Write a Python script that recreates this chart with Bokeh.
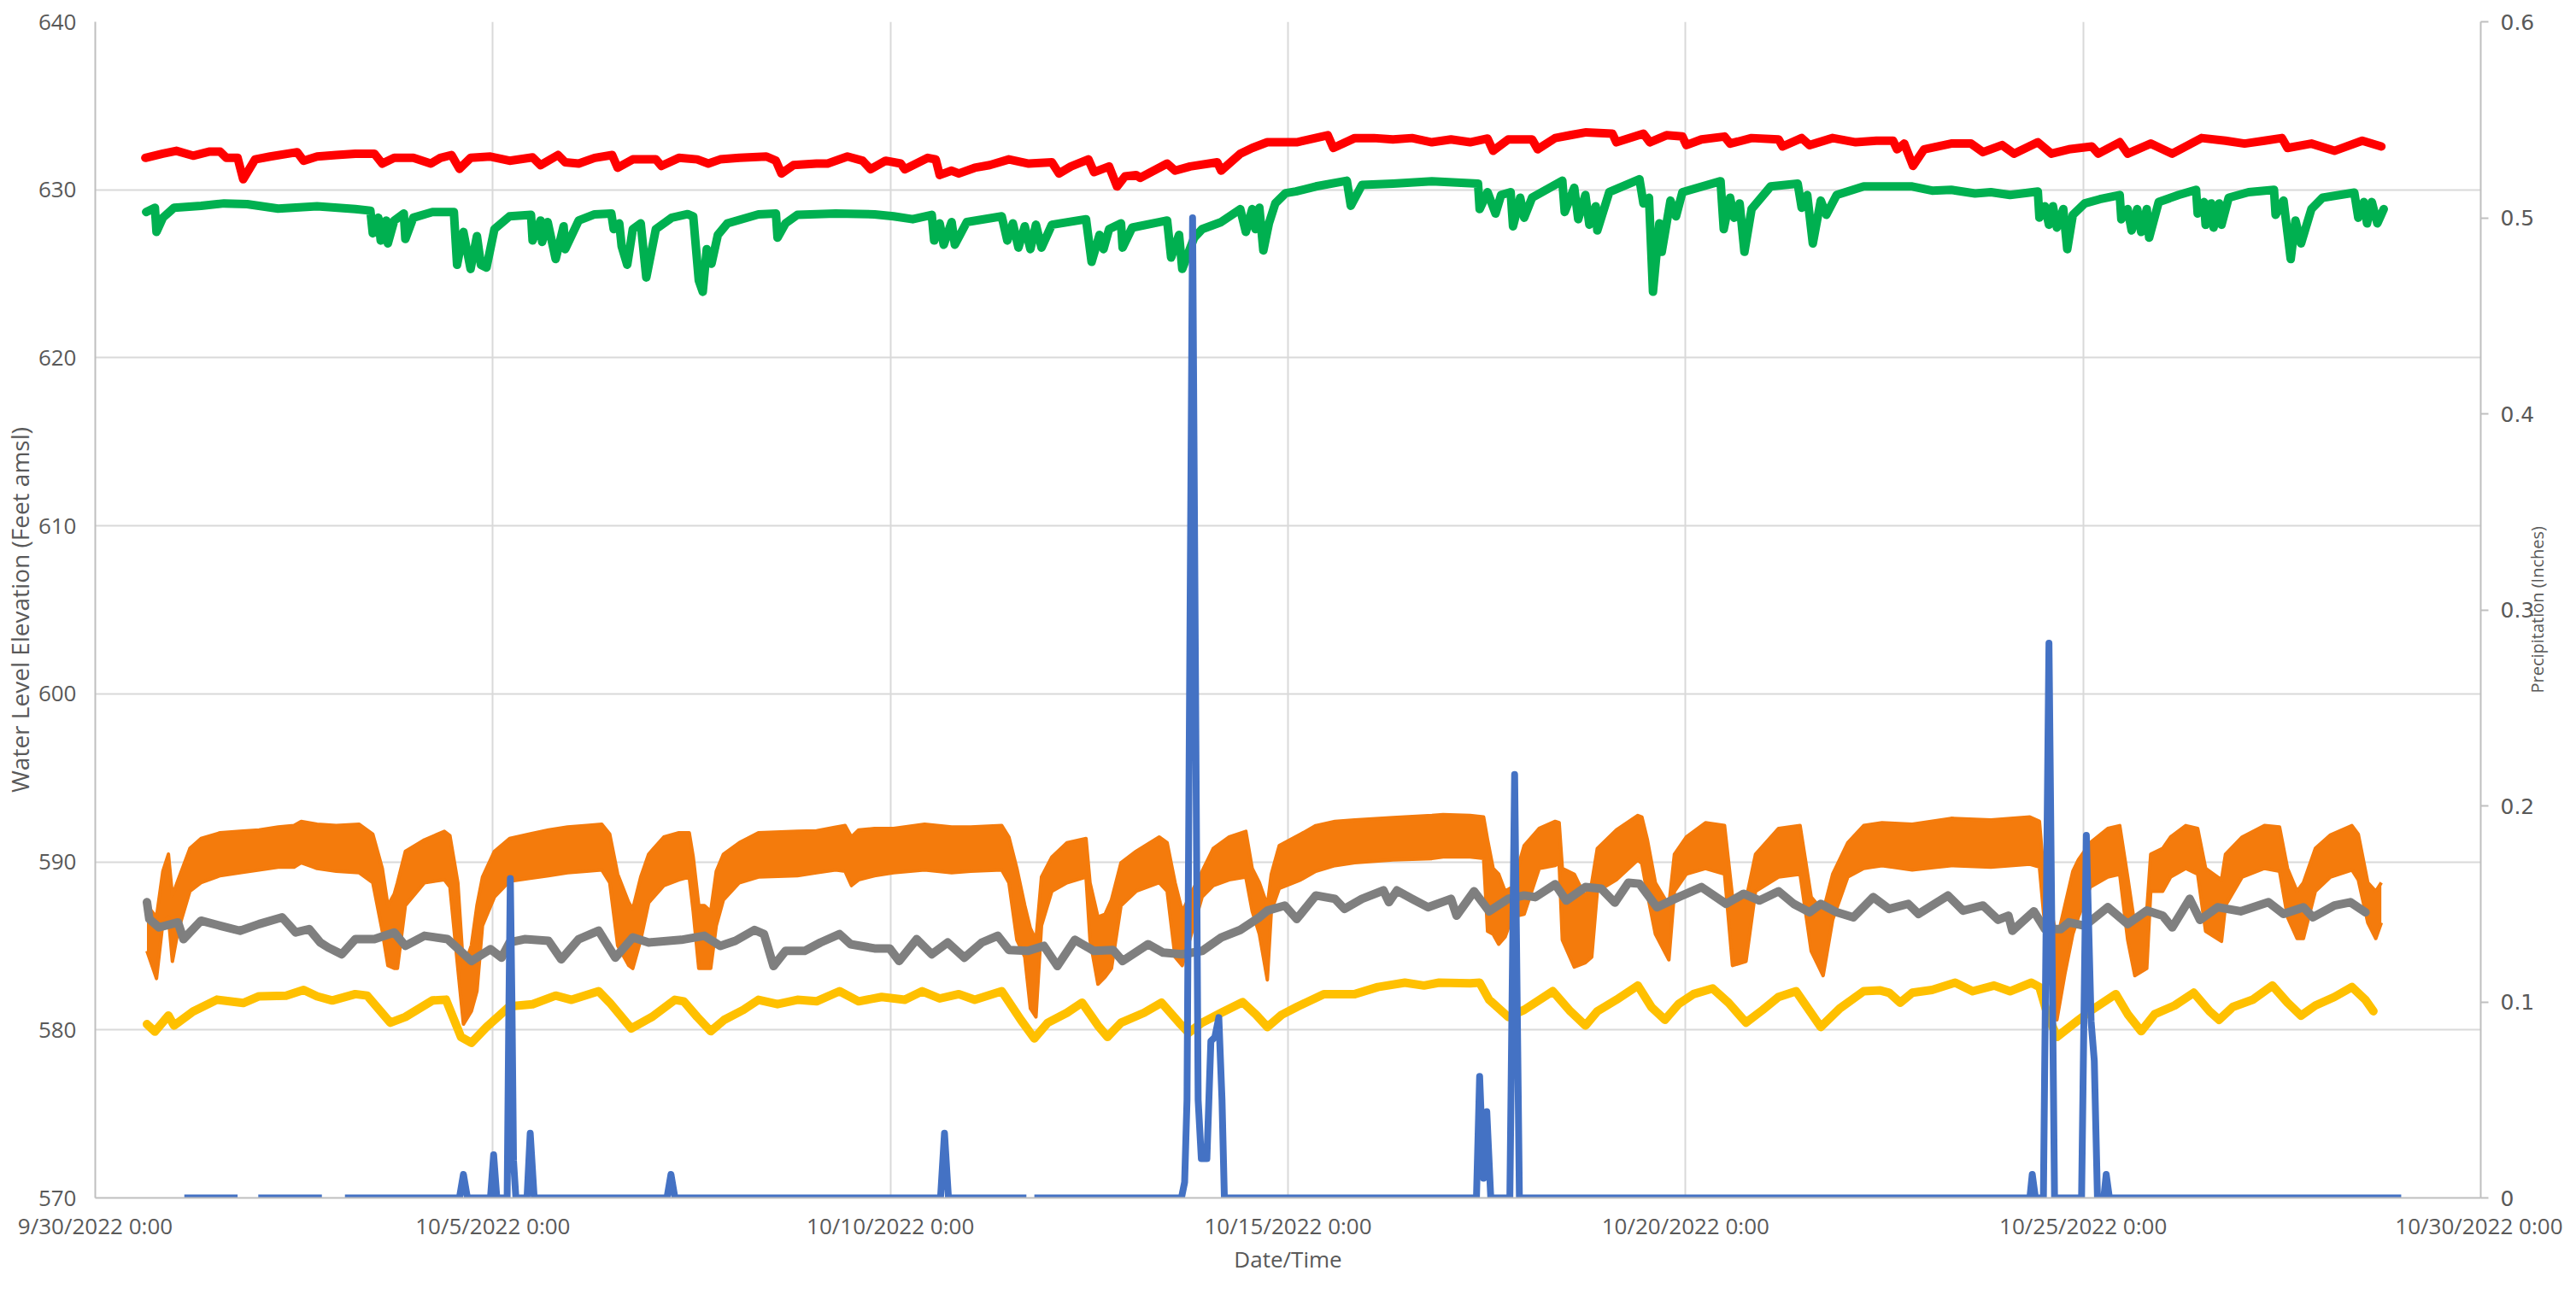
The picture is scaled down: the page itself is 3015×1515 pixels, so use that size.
import numpy as np
from bokeh.plotting import figure
from bokeh.models import Range1d, LinearAxis, FixedTicker
from bokeh.embed import file_html
from bokeh.resources import INLINE

NaN = float("nan")

# x values: days since 9/30/2022 0:00
x_tick_days = [0, 5, 10, 15, 20, 25, 30]
x_tick_labels = ["9/30/2022 0:00", "10/5/2022 0:00", "10/10/2022 0:00", "10/15/2022 0:00",
                 "10/20/2022 0:00", "10/25/2022 0:00", "10/30/2022 0:00"]
y_ticks = [570, 580, 590, 600, 610, 620, 630, 640]
precip_ticks = [0, 0.1, 0.2, 0.3, 0.4, 0.5, 0.6]
precip_tick_labels = ["0", "0.1", "0.2", "0.3", "0.4", "0.5", "0.6"]
precip_title = "Precipitation (Inches)"

red_t = [0.63, 0.85, 1.02, 1.23, 1.43, 1.57, 1.65, 1.79, 1.86, 2.01, 2.20, 2.54, 2.62, 2.79, 3.03, 3.27,
         3.51, 3.61, 3.76, 4.00, 4.22, 4.34, 4.48, 4.58, 4.72, 4.97, 5.21, 5.50, 5.60, 5.82, 5.91, 6.08,
         6.28, 6.50, 6.57, 6.76, 7.05, 7.12, 7.34, 7.57, 7.71, 7.86, 8.10, 8.44, 8.56, 8.63, 8.78, 9.07,
         9.21, 9.46, 9.65, 9.75, 9.94, 10.13, 10.18, 10.47, 10.57, 10.62, 10.77, 10.86, 11.06, 11.25,
         11.49, 11.74, 12.03, 12.12, 12.27, 12.49, 12.56, 12.75, 12.85, 12.95, 13.09, 13.14, 13.48,
         13.58, 13.77, 14.11, 14.16, 14.40, 14.55, 14.74, 14.97, 15.11, 15.50, 15.57, 15.84, 16.08,
         16.32, 16.56, 16.81, 17.05, 17.29, 17.51, 17.58, 17.77, 18.07, 18.14, 18.36, 18.55, 18.75,
         19.08, 19.13, 19.47, 19.55, 19.76, 19.96, 20.01, 20.20, 20.49, 20.56, 20.83, 21.17, 21.22,
         21.46, 21.56, 21.85, 22.14, 22.40, 22.61, 22.66, 22.75, 22.86, 23.00, 23.34, 23.59, 23.74,
         23.98, 24.13, 24.43, 24.60, 24.82, 25.11, 25.19, 25.46, 25.56, 25.85, 26.00, 26.12, 26.49,
         26.79, 27.03, 27.28, 27.50, 27.57, 27.87, 28.16, 28.51, 28.75]
red_ft = [631.90, 632.15, 632.32, 632.03, 632.27, 632.27, 631.90, 631.90, 630.63, 631.81, 631.98, 632.24,
          631.73, 631.98, 632.07, 632.15, 632.15, 631.56, 631.90, 631.90, 631.56, 631.90, 632.07, 631.25,
          631.90, 631.98, 631.73, 631.93, 631.47, 632.07, 631.64, 631.56, 631.90, 632.07, 631.31, 631.81,
          631.81, 631.42, 631.90, 631.81, 631.56, 631.81, 631.90, 631.98, 631.73, 630.97, 631.47, 631.56,
          631.56, 631.98, 631.73, 631.22, 631.73, 631.56, 631.22, 631.90, 631.81, 630.88, 631.14, 630.97,
          631.31, 631.47, 631.81, 631.56, 631.64, 630.97, 631.39, 631.81, 631.05, 631.39, 630.20, 630.80,
          630.88, 630.71, 631.56, 631.14, 631.39, 631.64, 631.14, 632.15, 632.49, 632.83, 632.83, 632.83,
          633.25, 632.49, 633.08, 633.08, 633.00, 633.08, 632.83, 633.00, 632.83, 633.05, 632.32, 633.00,
          633.00, 632.41, 633.08, 633.25, 633.42, 633.34, 632.83, 633.34, 632.83, 633.25, 633.17, 632.66,
          633.00, 633.17, 632.75, 633.08, 633.00, 632.58, 633.08, 632.66, 633.08, 632.83, 632.92, 632.92,
          632.41, 632.75, 631.42, 632.41, 632.75, 632.75, 632.24, 632.66, 632.15, 632.83, 632.15, 632.41,
          632.58, 632.15, 632.83, 632.15, 632.75, 632.41, 632.15, 633.08, 632.92, 632.75, 632.92, 633.08,
          632.49, 632.75, 632.32, 632.92, 632.58]

green_t = [0.64, 0.75, 0.77, 0.85, 0.99, 1.33, 1.62, 1.91, 2.30, 2.79, 3.27, 3.46, 3.49, 3.56, 3.59, 3.66,
           3.68, 3.76, 3.88, 3.90, 4.00, 4.24, 4.51, 4.55, 4.63, 4.72, 4.80, 4.85, 4.92, 5.02, 5.21, 5.48,
           5.50, 5.60, 5.62, 5.69, 5.79, 5.89, 5.91, 6.08, 6.28, 6.49, 6.52, 6.59, 6.62, 6.69, 6.76, 6.86,
           6.93, 7.05, 7.25, 7.45, 7.52, 7.59, 7.64, 7.69, 7.75, 7.83, 7.95, 8.34, 8.56, 8.58, 8.68, 8.83,
           9.31, 9.80, 10.04, 10.28, 10.52, 10.55, 10.62, 10.67, 10.77, 10.81, 10.96, 11.40, 11.47, 11.54,
           11.61, 11.69, 11.76, 11.83, 11.90, 12.03, 12.46, 12.53, 12.63, 12.68, 12.75, 12.90, 12.92,
           13.04, 13.48, 13.53, 13.63, 13.67, 13.82, 13.92, 14.16, 14.40, 14.47, 14.55, 14.59, 14.64,
           14.69, 14.76, 14.84, 14.97, 15.10, 15.35, 15.74, 15.79, 15.93, 16.32, 16.81, 17.39, 17.41,
           17.51, 17.61, 17.68, 17.80, 17.83, 17.92, 17.97, 18.07, 18.45, 18.48, 18.60, 18.65, 18.74,
           18.79, 18.87, 18.89, 19.04, 19.42, 19.47, 19.54, 19.59, 19.67, 19.70, 19.81, 19.88, 19.96,
           20.44, 20.48, 20.56, 20.61, 20.68, 20.74, 20.83, 21.07, 21.41, 21.46, 21.53, 21.60, 21.70,
           21.77, 21.90, 22.24, 22.47, 22.85, 23.10, 23.34, 23.64, 23.84, 24.08, 24.43, 24.45, 24.52,
           24.57, 24.62, 24.67, 24.75, 24.80, 24.87, 25.02, 25.21, 25.46, 25.48, 25.56, 25.61, 25.68,
           25.73, 25.80, 25.83, 25.95, 26.20, 26.42, 26.44, 26.52, 26.54, 26.61, 26.64, 26.71, 26.74,
           26.83, 27.08, 27.40, 27.42, 27.52, 27.61, 27.67, 27.74, 27.87, 28.01, 28.41, 28.46, 28.53,
           28.57, 28.63, 28.70, 28.78]
green_ft = [628.68, 628.93, 627.49, 628.34, 628.93, 629.05, 629.19, 629.15, 628.88, 629.02, 628.85, 628.76,
            627.41, 628.34, 626.98, 628.17, 626.81, 628.17, 628.59, 627.07, 628.34, 628.68, 628.68, 625.54,
            627.49, 625.29, 627.24, 625.54, 625.37, 627.66, 628.42, 628.51, 626.98, 628.17, 626.90, 628.08,
            625.88, 627.83, 626.47, 628.17, 628.54, 628.59, 627.66, 628.00, 626.64, 625.54, 627.66, 628.00,
            624.78, 627.66, 628.34, 628.55, 628.42, 624.61, 623.93, 626.47, 625.60, 627.32, 628.00, 628.54,
            628.59, 627.15, 628.00, 628.51, 628.59, 628.54, 628.42, 628.25, 628.51, 626.98, 628.00, 626.73,
            628.08, 626.73, 628.08, 628.42, 626.98, 628.00, 626.56, 627.83, 626.47, 627.92, 626.56, 627.92,
            628.25, 625.71, 627.32, 626.47, 627.66, 628.00, 626.56, 627.75, 628.17, 625.97, 627.32, 625.29,
            627.15, 627.66, 628.08, 628.85, 627.49, 628.85, 627.66, 628.93, 626.39, 628.00, 629.19, 629.80,
            629.90, 630.20, 630.54, 629.05, 630.29, 630.37, 630.51, 630.37, 628.85, 629.86, 628.59, 629.69,
            629.86, 627.83, 629.53, 628.34, 629.53, 630.54, 628.68, 630.12, 628.25, 629.69, 627.92, 629.02,
            627.58, 629.86, 630.63, 629.19, 629.53, 623.93, 628.00, 626.31, 629.36, 628.42, 629.86, 630.51,
            627.66, 629.53, 628.34, 629.19, 626.31, 628.85, 630.20, 630.37, 628.93, 629.69, 626.81, 629.36,
            628.51, 629.69, 630.20, 630.20, 630.20, 629.95, 630.00, 629.78, 629.86, 629.69, 629.90, 628.34,
            629.02, 627.92, 629.02, 627.75, 628.85, 626.47, 628.51, 629.19, 629.44, 629.69, 628.25, 628.85,
            627.58, 628.85, 627.49, 628.85, 627.15, 629.27, 629.69, 630.00, 628.59, 629.27, 627.92, 629.19,
            627.75, 629.19, 627.92, 629.53, 629.86, 630.00, 628.51, 629.36, 625.88, 628.17, 626.81, 628.85,
            629.53, 629.83, 628.34, 629.27, 628.00, 629.27, 628.00, 628.85]

orange_t = [0.65, 0.77, 0.85, 0.92, 0.97, 1.04, 1.19, 1.33, 1.57, 1.82, 2.06, 2.30, 2.50, 2.59, 2.79, 3.03,
            3.32, 3.49, 3.61, 3.68, 3.76, 3.80, 3.90, 4.14, 4.39, 4.46, 4.56, 4.63, 4.73, 4.80, 4.87, 5.02,
            5.21, 5.45, 5.70, 5.94, 6.18, 6.37, 6.47, 6.57, 6.71, 6.76, 6.86, 6.96, 7.15, 7.34, 7.47, 7.52,
            7.59, 7.66, 7.74, 7.81, 7.90, 8.10, 8.34, 8.83, 9.07, 9.31, 9.43, 9.51, 9.60, 9.80, 10.04,
            10.43, 10.77, 11.01, 11.40, 11.49, 11.59, 11.69, 11.76, 11.83, 11.90, 12.03, 12.22, 12.46,
            12.51, 12.61, 12.70, 12.78, 12.90, 13.09, 13.38, 13.48, 13.58, 13.67, 13.92, 14.06, 14.26,
            14.47, 14.55, 14.64, 14.74, 14.79, 14.89, 15.16, 15.35, 15.59, 15.84, 16.32, 16.81, 16.95,
            17.29, 17.46, 17.51, 17.58, 17.65, 17.73, 17.82, 17.97, 18.16, 18.36, 18.41, 18.45, 18.60,
            18.74, 18.82, 18.89, 19.13, 19.40, 19.45, 19.52, 19.62, 19.79, 19.86, 20.01, 20.25, 20.49,
            20.59, 20.76, 20.88, 21.17, 21.44, 21.58, 21.73, 21.85, 22.04, 22.24, 22.47, 22.85, 23.34,
            23.84, 24.33, 24.45, 24.50, 24.67, 24.77, 24.87, 24.94, 25.09, 25.31, 25.46, 25.56, 25.65,
            25.80, 25.85, 26.00, 26.10, 26.29, 26.44, 26.54, 26.74, 26.79, 27.00, 27.28, 27.47, 27.57,
            27.69, 27.77, 27.92, 28.11, 28.38, 28.46, 28.58, 28.68, 28.75]
orange_hi = [587.40, 586.72, 589.44, 590.46, 588.00, 588.90, 590.80, 591.39, 591.73, 591.82, 591.90, 592.07,
             592.16, 592.41, 592.24, 592.16, 592.24, 591.65, 589.61, 587.40, 588.08, 588.76, 590.63, 591.31,
             591.82, 591.56, 588.76, 583.66, 585.02, 587.40, 589.10, 590.63, 591.39, 591.65, 591.90, 592.07,
             592.16, 592.24, 591.65, 589.27, 587.57, 587.20, 589.10, 590.46, 591.48, 591.73, 591.73, 590.29,
             587.40, 587.40, 587.06, 589.44, 590.46, 591.14, 591.73, 591.82, 591.85, 592.07, 592.16, 591.48,
             591.90, 591.99, 591.99, 592.24, 592.07, 592.07, 592.16, 591.48, 589.61, 587.40, 586.04, 585.36,
             589.10, 590.29, 591.14, 591.39, 588.76, 586.72, 586.89, 587.74, 589.95, 590.63, 591.48, 591.14,
             588.76, 587.06, 589.44, 590.80, 591.48, 591.82, 589.61, 588.76, 587.40, 589.27, 590.97, 591.65,
             592.16, 592.41, 592.50, 592.64, 592.76, 592.81, 592.76, 592.67, 591.31, 589.61, 589.27, 588.25,
             588.50, 590.97, 591.99, 592.41, 592.33, 589.61, 589.27, 587.91, 588.76, 590.80, 591.90, 592.76,
             592.67, 591.31, 588.76, 587.40, 590.46, 591.48, 592.33, 592.16, 587.91, 587.74, 590.46, 591.99,
             592.16, 587.91, 587.06, 589.27, 591.14, 592.16, 592.33, 592.24, 592.59, 592.50, 592.67, 592.41,
             589.61, 585.36, 587.40, 589.44, 590.12, 591.14, 591.99, 592.16, 589.10, 586.21, 587.06, 590.46,
             590.80, 591.48, 592.16, 591.99, 589.61, 588.93, 590.46, 591.48, 592.16, 592.07, 589.61, 588.25,
             588.76, 590.80, 591.60, 592.16, 591.65, 588.76, 588.25, 588.76]
orange_lo = [584.70, 583.06, 586.38, 586.72, 584.08, 585.87, 588.25, 588.76, 589.18, 589.35, 589.52, 589.69,
             589.69, 589.95, 589.61, 589.44, 589.35, 588.76, 585.87, 583.83, 583.66, 583.66, 587.40, 588.76,
             588.93, 588.50, 583.66, 580.34, 581.11, 582.30, 586.21, 587.91, 588.84, 589.01, 589.18, 589.35,
             589.44, 589.52, 588.76, 585.02, 583.83, 583.66, 585.36, 587.57, 588.59, 588.93, 589.10, 587.06,
             583.66, 583.66, 583.66, 586.21, 587.74, 588.76, 589.10, 589.18, 589.35, 589.52, 589.44, 588.59,
             588.93, 589.18, 589.35, 589.52, 589.35, 589.44, 589.52, 588.76, 585.36, 584.34, 581.28, 580.77,
             586.21, 588.25, 588.76, 589.10, 585.36, 582.72, 583.15, 583.66, 587.40, 588.25, 588.76, 588.25,
             584.34, 583.83, 587.91, 588.59, 588.93, 589.10, 587.06, 585.70, 582.98, 587.06, 588.42, 588.93,
             589.44, 589.78, 589.95, 590.12, 590.20, 590.29, 590.29, 590.20, 585.87, 585.70, 585.10, 585.53,
             586.72, 586.89, 589.61, 589.78, 589.95, 585.36, 583.74, 584.00, 584.34, 588.25, 588.93, 590.12,
             589.90, 588.08, 585.70, 584.17, 588.25, 589.27, 589.61, 589.27, 583.83, 584.08, 588.25, 589.10,
             589.27, 584.68, 583.23, 586.55, 589.10, 589.61, 589.78, 589.52, 589.78, 589.69, 589.86, 589.70,
             587.06, 580.60, 583.32, 585.70, 586.72, 588.50, 589.10, 589.27, 585.36, 583.23, 583.66, 588.25,
             588.25, 589.10, 589.61, 589.27, 585.87, 585.27, 587.40, 589.10, 589.61, 589.44, 586.72, 585.44,
             585.44, 588.25, 589.10, 589.52, 588.93, 586.38, 585.44, 586.38]

gray_t = [0.65, 0.68, 0.80, 1.04, 1.11, 1.33, 1.57, 1.82, 2.06, 2.35, 2.52, 2.69, 2.83, 2.93, 3.10, 3.27,
          3.51, 3.76, 3.90, 4.14, 4.43, 4.73, 4.97, 5.11, 5.21, 5.40, 5.70, 5.86, 6.08, 6.33, 6.54, 6.76,
          6.96, 7.37, 7.66, 7.86, 8.05, 8.29, 8.41, 8.53, 8.68, 8.92, 9.12, 9.36, 9.50, 9.80, 9.99, 10.11,
          10.33, 10.52, 10.72, 10.93, 11.15, 11.35, 11.49, 11.73, 11.93, 12.10, 12.32, 12.56, 12.80,
          12.92, 13.24, 13.43, 13.67, 13.92, 14.16, 14.40, 14.64, 14.74, 14.96, 15.11, 15.35, 15.59,
          15.71, 15.93, 16.20, 16.27, 16.37, 16.56, 16.76, 17.05, 17.12, 17.34, 17.53, 17.77, 17.97,
          18.11, 18.36, 18.50, 18.74, 18.94, 19.11, 19.28, 19.42, 19.64, 19.91, 20.20, 20.51, 20.73,
          20.93, 21.17, 21.36, 21.56, 21.70, 21.90, 22.11, 22.36, 22.56, 22.80, 22.93, 23.30, 23.49,
          23.74, 23.93, 24.06, 24.11, 24.38, 24.52, 24.72, 24.82, 25.02, 25.31, 25.56, 25.80, 26.00,
          26.12, 26.34, 26.47, 26.69, 26.98, 27.33, 27.52, 27.77, 27.89, 28.16, 28.36, 28.55]
gray_ft = [587.60, 586.60, 586.10, 586.40, 585.40, 586.50, 586.20, 585.90, 586.30, 586.70, 585.80, 586.00,
           585.20, 584.90, 584.50, 585.40, 585.40, 585.80, 585.00, 585.60, 585.40, 584.10, 584.80, 584.30,
           585.20, 585.40, 585.30, 584.20, 585.40, 585.90, 584.30, 585.50, 585.20, 585.36, 585.60, 585.00,
           585.30, 585.95, 585.70, 583.80, 584.70, 584.70, 585.20, 585.70, 585.10, 584.85, 584.85, 584.10,
           585.40, 584.50, 585.20, 584.30, 585.20, 585.60, 584.76, 584.70, 585.00, 583.80, 585.36, 584.70,
           584.76, 584.10, 585.10, 584.60, 584.50, 584.70, 585.50, 585.95, 586.70, 587.10, 587.40, 586.60,
           588.00, 587.80, 587.20, 587.80, 588.30, 587.60, 588.30, 587.80, 587.30, 587.80, 586.80, 588.25,
           587.06, 587.80, 588.00, 587.90, 588.67, 587.70, 588.50, 588.40, 587.57, 588.76, 588.70, 587.30,
           587.90, 588.50, 587.50, 588.10, 587.70, 588.25, 587.50, 587.00, 587.50, 587.00, 586.70, 587.90,
           587.20, 587.50, 586.90, 588.00, 587.10, 587.40, 586.55, 586.80, 585.90, 587.06, 586.00, 586.00,
           586.40, 586.20, 587.30, 586.30, 587.10, 586.80, 586.10, 587.80, 586.55, 587.30, 587.06, 587.60,
           586.90, 587.30, 586.70, 587.40, 587.60, 587.00]

yellow_t = [0.65, 0.75, 0.92, 0.99, 1.23, 1.53, 1.86, 2.06, 2.40, 2.62, 2.79, 2.98, 3.27, 3.42, 3.71, 3.90,
            4.24, 4.41, 4.60, 4.73, 4.92, 5.21, 5.50, 5.79, 5.99, 6.33, 6.47, 6.74, 7.00, 7.29, 7.40, 7.57,
            7.74, 7.91, 8.15, 8.34, 8.58, 8.83, 9.07, 9.36, 9.60, 9.89, 10.18, 10.40, 10.62, 10.86, 11.06,
            11.40, 11.64, 11.81, 11.98, 12.22, 12.41, 12.61, 12.73, 12.90, 13.19, 13.41, 13.63, 13.75,
            13.92, 14.16, 14.43, 14.60, 14.74, 14.92, 15.11, 15.45, 15.84, 16.13, 16.47, 16.71, 16.90,
            17.29, 17.41, 17.53, 17.77, 17.97, 18.33, 18.55, 18.74, 18.89, 19.13, 19.40, 19.57, 19.74,
            19.91, 20.10, 20.34, 20.54, 20.76, 20.97, 21.17, 21.39, 21.70, 21.94, 22.24, 22.45, 22.56,
            22.70, 22.85, 23.10, 23.39, 23.61, 23.88, 24.08, 24.35, 24.45, 24.55, 24.67, 24.92, 25.11,
            25.41, 25.56, 25.73, 25.90, 26.15, 26.39, 26.59, 26.71, 26.88, 27.13, 27.38, 27.57, 27.74,
            27.92, 28.16, 28.38, 28.55, 28.65]
yellow_ft = [580.34, 579.90, 580.85, 580.26, 581.10, 581.80, 581.60, 582.00, 582.04, 582.38, 582.00, 581.75,
             582.13, 582.04, 580.43, 580.77, 581.75, 581.80, 579.58, 579.23, 580.17, 581.40, 581.53, 582.04,
             581.79, 582.30, 581.62, 580.09, 580.77, 581.79, 581.70, 580.77, 579.92, 580.60, 581.19, 581.79,
             581.53, 581.79, 581.70, 582.30, 581.70, 581.96, 581.79, 582.30, 581.87, 582.13, 581.79, 582.30,
             580.60, 579.49, 580.43, 581.02, 581.62, 580.26, 579.58, 580.43, 581.02, 581.62, 580.43, 579.83,
             580.43, 581.02, 581.65, 580.90, 580.17, 580.90, 581.36, 582.13, 582.13, 582.55, 582.81, 582.64,
             582.81, 582.77, 582.81, 581.79, 580.77, 581.19, 582.30, 581.11, 580.26, 581.11, 581.79, 582.64,
             581.36, 580.60, 581.53, 582.13, 582.47, 581.62, 580.43, 581.19, 581.96, 582.30, 580.17, 581.28,
             582.30, 582.35, 582.21, 581.62, 582.21, 582.38, 582.81, 582.30, 582.64, 582.30, 582.81, 582.55,
             580.94, 579.58, 580.51, 581.19, 582.13, 580.94, 579.92, 580.94, 581.45, 582.21, 581.11, 580.60,
             581.36, 581.79, 582.64, 581.62, 580.85, 581.45, 581.96, 582.55, 581.79, 581.11]

precip_t = [1.12, 1.79, 1.80, 2.05, 2.85, 2.86, 3.14, 4.58, 4.63, 4.68, 4.97, 5.01, 5.05, 5.18, 5.20, 5.22,
            5.24, 5.26, 5.29, 5.43, 5.47, 5.52, 7.19, 7.24, 7.29, 10.63, 10.68, 10.73, 11.71, 11.72, 11.81,
            13.66, 13.70, 13.73, 13.80, 13.87, 13.91, 13.98, 14.03, 14.08, 14.13, 14.17, 14.20, 17.37,
            17.41, 17.46, 17.50, 17.55, 17.79, 17.85, 17.91, 24.33, 24.36, 24.40, 24.50, 24.57, 24.64,
            24.98, 25.04, 25.10, 25.14, 25.18, 25.26, 25.29, 25.33, 29.00]
precip_in = [0, 0, NaN, 0, 0, NaN, 0, 0, 0.012, 0, 0, 0.022, 0, 0, 0.09, 0.163,
             0.10, 0.019, 0, 0, 0.033, 0, 0, 0.012, 0, 0, 0.033, 0, 0, NaN, 0,
             0, 0.008, 0.05, 0.50, 0.05, 0.02, 0.02, 0.08, 0.082, 0.092, 0.05, 0, 0,
             0.062, 0.01, 0.044, 0, 0, 0.216, 0, 0, 0.012, 0, 0, 0.283, 0,
             0, 0.185, 0.09, 0.07, 0, 0, 0.012, 0, 0]

RED = "#FF0000"
GREEN = "#00B050"
ORANGE = "#F47B0C"
GRAY = "#7F7F7F"
YELLOW = "#FFC000"
BLUE = "#4472C4"
TXT = "#595959"
GRID = "#D9D9D9"
AXIS = "#BFBFBF"
FONT = "Open Sans"

p = figure(width=2999, height=1499, output_backend="svg", toolbar_location=None,
           x_range=Range1d(0, 30), y_range=Range1d(570, 640),
           min_border_left=104, min_border_right=94, min_border_top=25, min_border_bottom=97)
p.extra_y_ranges = {"precip": Range1d(0, 0.6)}
p.outline_line_color = None
p.background_fill_color = "white"
p.border_fill_color = "white"

# bottom axis
xa = p.xaxis[0]
xa.ticker = FixedTicker(ticks=x_tick_days)
xa.major_label_overrides = {d: lab for d, lab in zip(x_tick_days, x_tick_labels)}
xa.major_tick_out = 0
xa.major_tick_in = 0
xa.minor_tick_out = 0
xa.minor_tick_in = 0
xa.axis_line_color = AXIS
xa.axis_line_width = 2
xa.major_label_text_font = FONT
xa.major_label_text_font_size = "26px"
xa.major_label_text_color = TXT
xa.major_label_standoff = 14
xa.axis_label = "Date/Time"
xa.axis_label_text_font = FONT
xa.axis_label_text_font_size = "26px"
xa.axis_label_text_font_style = "normal"
xa.axis_label_text_color = TXT
xa.axis_label_standoff = 0

# left axis
ya = p.yaxis[0]
ya.ticker = FixedTicker(ticks=y_ticks)
ya.major_tick_out = 0
ya.major_tick_in = 0
ya.minor_tick_out = 0
ya.minor_tick_in = 0
ya.axis_line_color = AXIS
ya.axis_line_width = 2
ya.major_label_text_font = FONT
ya.major_label_text_font_size = "26px"
ya.major_label_text_color = TXT
ya.major_label_standoff = 22
ya.axis_label = "Water Level Elevation (Feet amsl)"
ya.axis_label_text_font = FONT
ya.axis_label_text_font_size = "28px"
ya.axis_label_text_font_style = "normal"
ya.axis_label_text_color = TXT
ya.axis_label_standoff = 0

# right axis (precipitation)
ra = LinearAxis(y_range_name="precip", ticker=FixedTicker(ticks=precip_ticks))
ra.major_label_overrides = {v: lab for v, lab in zip(precip_ticks, precip_tick_labels)}
ra.major_tick_out = 9
ra.major_tick_in = 0
ra.minor_tick_out = 0
ra.minor_tick_in = 0
ra.major_tick_line_color = AXIS
ra.major_tick_line_width = 2
ra.axis_line_color = AXIS
ra.axis_line_width = 2
ra.major_label_text_font = "DejaVu Sans"
ra.major_label_text_font_size = "25px"
ra.major_label_text_color = TXT
ra.major_label_standoff = 14
p.add_layout(ra, "right")

# right-hand title, drawn as the single label of a bare axis so it reads bottom-to-top;
# the label starts at its tick and runs upward, so the tick sits below the middle of the frame
title_tick = 0.2575
ta = LinearAxis(y_range_name="precip", ticker=FixedTicker(ticks=[title_tick]))
ta.major_label_overrides = {title_tick: precip_title}
ta.major_label_orientation = np.pi / 2
ta.major_tick_out = 0
ta.major_tick_in = 0
ta.minor_tick_out = 0
ta.minor_tick_in = 0
ta.axis_line_color = None
ta.major_label_text_font = FONT
ta.major_label_text_font_size = "20px"
ta.major_label_text_color = TXT
ta.major_label_standoff = 0
p.add_layout(ta, "right")

p.xgrid.ticker = FixedTicker(ticks=x_tick_days)
p.ygrid.ticker = FixedTicker(ticks=y_ticks)
for g in (p.xgrid[0], p.ygrid[0]):
    g.grid_line_color = GRID
    g.grid_line_width = 2

# series
p.varea(x=orange_t, y1=orange_lo, y2=orange_hi, fill_color=ORANGE)
p.line(orange_t, orange_hi, line_color=ORANGE, line_width=4, line_join="round")
p.line(orange_t, orange_lo, line_color=ORANGE, line_width=4, line_join="round")
p.line(yellow_t, yellow_ft, line_color=YELLOW, line_width=10, line_join="round", line_cap="round")
p.line(gray_t, gray_ft, line_color=GRAY, line_width=10, line_join="round", line_cap="round")
p.line(red_t, red_ft, line_color=RED, line_width=10, line_join="round", line_cap="round")
p.line(green_t, green_ft, line_color=GREEN, line_width=10, line_join="round", line_cap="round")
p.line(np.array(precip_t, dtype=float), np.array(precip_in, dtype=float), line_color=BLUE,
       line_width=8, line_join="round", y_range_name="precip")

open("out.html", "w").write(file_html(p, INLINE))
